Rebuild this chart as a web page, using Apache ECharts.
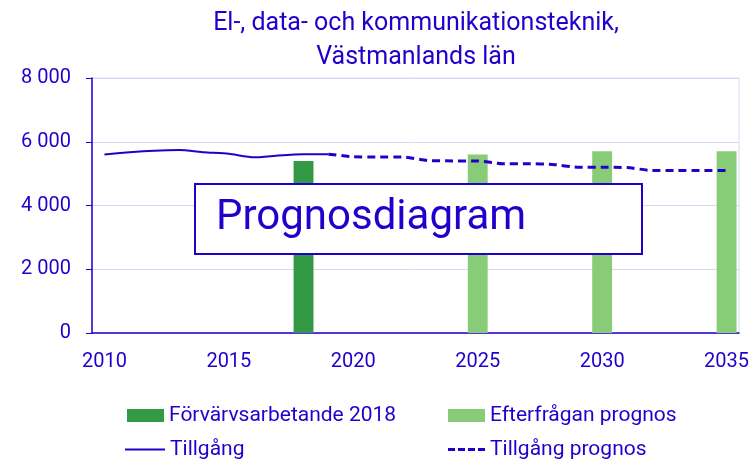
<!DOCTYPE html>
<html>
<head>
<meta charset="utf-8">
<script src="https://cdn.jsdelivr.net/npm/echarts@6/dist/echarts.min.js"></script>
<style>
  html, body { margin: 0; padding: 0; background: #fff; }
  #chart { width: 752px; height: 460px; }
</style>
</head>
<body>
<div id="chart"></div>
<script>
const years = ['2010', '2011', '2012', '2013', '2014', '2015', '2016', '2017', '2018',
  '2019', '2020', '2021', '2022', '2023', '2024', '2025', '2026', '2027', '2028',
  '2029', '2030', '2031', '2032', '2033', '2034', '2035'];

// förvärvsarbetande 2018 (mörkgrön stapel)
const employed = [null, null, null, null, null, null, null, null, 5400,
  null, null, null, null, null, null, null, null, null, null,
  null, null, null, null, null, null, null];

// efterfrågan prognos (ljusgröna staplar)
const demand = [null, null, null, null, null, null, null, null, null,
  null, null, null, null, null, null, 5600, null, null, null,
  null, 5700, null, null, null, null, 5700];

// tillgång, utfall
const supply = [5600, 5670, 5720, 5740, 5670, 5620, 5510, 5570, 5610,
  5610, null, null, null, null, null, null, null, null, null,
  null, null, null, null, null, null, null];

// tillgång, prognos
const supplyForecast = [null, null, null, null, null, null, null, null, null,
  5610, 5530, 5520, 5520, 5410, 5400, 5400, 5310, 5310, 5290,
  5200, 5200, 5190, 5100, 5100, 5100, 5100];

const blue = '#2200cc';
const font = 'Roboto';
const legendText = { fontFamily: font, fontSize: 21, color: blue };
const dashIcon = 'path://M0,0h7v3h-7z M10,0h7v3h-7z M20,0h7v3h-7z M30,0h7v3h-7z';

function legendItem(name, left, top, icon, w, h) {
  return {
    left: left,
    top: top,
    padding: 0,
    itemWidth: w,
    itemHeight: h,
    itemGap: 5,
    textStyle: legendText,
    data: [{ name: name, icon: icon }]
  };
}

const chart = echarts.init(document.getElementById('chart'));

chart.setOption({
  animation: false,
  textStyle: { fontFamily: font, color: blue },
  title: {
    text: 'El-, data- och kommunikationsteknik,\nVästmanlands län',
    left: 416,
    top: 7,
    padding: 0,
    textAlign: 'center',
    textStyle: { fontFamily: font, fontSize: 25, fontWeight: 'normal', color: blue, lineHeight: 34 }
  },
  grid: {
    left: 92,
    right: 10,
    top: 78,
    bottom: 127,
    show: true,
    borderColor: '#d8d8f2',
    borderWidth: 1
  },
  legend: [
    legendItem('Förvärvsarbetande 2018', 127, 405, 'rect', 37, 13),
    legendItem('Efterfrågan prognos', 448, 405, 'rect', 37, 13),
    legendItem('Tillgång', 125, 439, 'rect', 40, 2),
    legendItem('Tillgång prognos', 448, 439, dashIcon, 37, 3)
  ],
  xAxis: {
    type: 'category',
    data: years,
    boundaryGap: true,
    axisLine: { lineStyle: { color: blue, width: 1.5 } },
    axisTick: { interval: 0, length: 7, lineStyle: { color: blue } },
    axisLabel: { interval: 4, fontSize: 20, color: blue, margin: 19 },
    splitLine: { show: false }
  },
  yAxis: {
    type: 'value',
    min: 0,
    max: 8000,
    interval: 2000,
    axisLine: { show: true, lineStyle: { color: blue, width: 1.5 } },
    axisTick: { show: true, length: 6, lineStyle: { color: blue } },
    axisLabel: {
      fontSize: 20,
      color: blue,
      margin: 21,
      formatter: v => String(v).replace(/\B(?=(\d{3})+(?!\d))/g, ' ')
    },
    splitLine: { lineStyle: { color: '#d8d8f2', width: 1 } }
  },
  series: [
    {
      name: 'Förvärvsarbetande 2018',
      type: 'bar',
      data: employed,
      barWidth: '80%',
      barGap: '-100%',
      itemStyle: { color: '#339944' }
    },
    {
      name: 'Efterfrågan prognos',
      type: 'bar',
      data: demand,
      barWidth: '80%',
      barGap: '-100%',
      itemStyle: { color: '#88cc77' }
    },
    {
      name: 'Tillgång',
      type: 'line',
      data: supply,
      symbol: 'none',
      smooth: 0.2,
      lineStyle: { color: blue, width: 2 },
      itemStyle: { color: blue }
    },
    {
      name: 'Tillgång prognos',
      type: 'line',
      data: supplyForecast,
      symbol: 'none',
      smooth: 0.2,
      lineStyle: { color: blue, width: 3, type: [8, 5] },
      itemStyle: { color: blue }
    }
  ],
  graphic: [
    {
      type: 'rect',
      z: 100,
      left: 194,
      top: 183,
      shape: { width: 447, height: 70 },
      style: { fill: '#fff', stroke: blue, lineWidth: 2 }
    },
    {
      type: 'text',
      z: 101,
      left: 216,
      top: 197,
      style: {
        text: 'Prognosdiagram',
        fill: blue,
        font: '42px Roboto'
      }
    }
  ]
});
</script>
</body>
</html>
